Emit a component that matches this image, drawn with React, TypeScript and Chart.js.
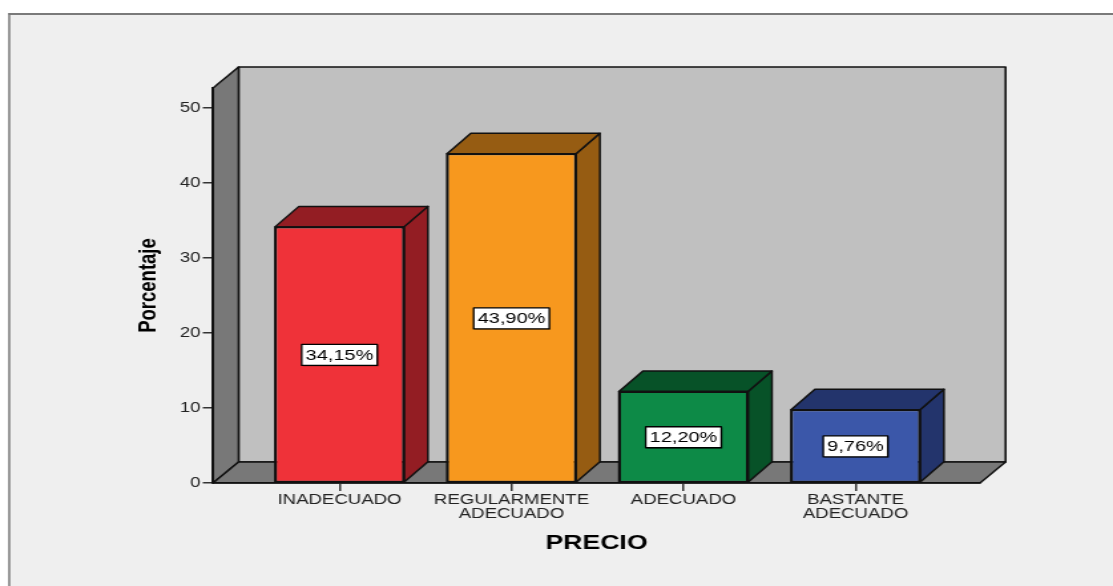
import React, { useEffect, useRef } from 'react';
import { Chart, registerables } from 'chart.js';

Chart.register(...registerables);

// ---- data ----
const categories: string[][] = [
  ['INADECUADO'],
  ['REGULARMENTE', 'ADECUADO'],
  ['ADECUADO'],
  ['BASTANTE', 'ADECUADO'],
];
const percentages = [34.15, 43.9, 12.2, 9.76];
const valueLabels = ['34,15%', '43,90%', '12,20%', '9,76%'];
const yTickValues = [0, 10, 20, 30, 40, 50];
const frontColors = ['#ef3239', '#f7981e', '#0d8a47', '#3b57a9'];
const sideColors = ['#931d23', '#965c12', '#075228', '#23346c'];
const yAxisTitle = 'Porcentaje';
const xAxisTitle = 'PRECIO';

// ---- layout constants ----
const CANVAS_W = 837;
const CANVAS_H = 586;
const WALL_DX = 19.2;
const WALL_DY = -21;
const BAR_DX = 18;
const BAR_DY = -20.5;
const FONT = '"Liberation Sans", Arial, sans-serif';

function poly(ctx: CanvasRenderingContext2D, pts: number[][], fill: string, stroke = '#111', lw = 1.5) {
  ctx.beginPath();
  ctx.moveTo(pts[0][0], pts[0][1]);
  for (let i = 1; i < pts.length; i++) ctx.lineTo(pts[i][0], pts[i][1]);
  ctx.closePath();
  ctx.fillStyle = fill;
  ctx.fill();
  ctx.lineWidth = lw;
  ctx.strokeStyle = stroke;
  ctx.lineJoin = 'round';
  ctx.stroke();
}

const scene3d = {
  id: 'scene3d',
  beforeDraw(chart: any) {
    const ctx: CanvasRenderingContext2D = chart.ctx;
    const { left, right, top, bottom } = chart.chartArea;
    ctx.save();
    ctx.fillStyle = '#ffffff';
    ctx.fillRect(0, 0, chart.width, chart.height);
    ctx.fillStyle = '#efefef';
    ctx.fillRect(6.5, 14, chart.width, chart.height);
    ctx.fillStyle = '#7a7a7a';
    ctx.fillRect(6.2, 13, chart.width, 2);
    ctx.fillRect(6.2, 13, 1.5, chart.height);
    // back wall
    poly(ctx, [
      [left + WALL_DX, top + WALL_DY],
      [right + WALL_DX, top + WALL_DY],
      [right + WALL_DX, bottom + WALL_DY],
      [left + WALL_DX, bottom + WALL_DY],
    ], '#c0c0c0', '#111', 1.6);
    // left wall
    poly(ctx, [
      [left, bottom],
      [left, top],
      [left + WALL_DX, top + WALL_DY],
      [left + WALL_DX, bottom + WALL_DY],
    ], '#787878');
    // floor
    poly(ctx, [
      [left, bottom],
      [left + WALL_DX, bottom + WALL_DY],
      [right + WALL_DX, bottom + WALL_DY],
      [right, bottom],
    ], '#787878');
    ctx.restore();
  },
  afterDatasetsDraw(chart: any) {
    const ctx: CanvasRenderingContext2D = chart.ctx;
    const meta = chart.getDatasetMeta(0);
    const yScale = chart.scales.y;
    ctx.save();
    meta.data.forEach((bar: any, i: number) => {
      const { x, y, base, width } = bar.getProps(['x', 'y', 'base', 'width'], true);
      const l = x - width / 2;
      const r = x + width / 2;
      poly(ctx, [
        [r, y],
        [r + BAR_DX, y + BAR_DY],
        [r + BAR_DX, base + BAR_DY],
        [r, base],
      ], sideColors[i]);
      poly(ctx, [
        [l, y],
        [l + BAR_DX, y + BAR_DY],
        [r + BAR_DX, y + BAR_DY],
        [r, y],
      ], sideColors[i]);
      ctx.lineWidth = 1.5;
      ctx.strokeStyle = '#111';
      ctx.strokeRect(l, y, width, base - y);
    });
    // value labels
    ctx.font = `15px ${FONT}`;
    ctx.textAlign = 'center';
    ctx.textBaseline = 'middle';
    meta.data.forEach((bar: any, i: number) => {
      const { x } = bar.getProps(['x'], true);
      const cy = yScale.getPixelForValue(percentages[i] / 2);
      const tw = ctx.measureText(valueLabels[i]).width;
      const bw = tw + 6;
      const bh = 21;
      ctx.fillStyle = 'rgba(0,0,0,0.25)';
      ctx.fillRect(x - bw / 2 + 1, cy - bh / 2 + 1, bw, bh);
      ctx.fillStyle = '#ffffff';
      ctx.fillRect(x - bw / 2, cy - bh / 2, bw, bh);
      ctx.lineWidth = 1.3;
      ctx.strokeStyle = '#000';
      ctx.strokeRect(x - bw / 2, cy - bh / 2, bw, bh);
      ctx.fillStyle = '#000';
      ctx.fillText(valueLabels[i], x, cy + 0.5);
    });
    ctx.restore();
  },
};

export default function App() {
  const ref = useRef<HTMLCanvasElement>(null);
  useEffect(() => {
    const canvas = ref.current!;
    const chart = new Chart(canvas, {
      type: 'bar',
      data: {
        datasets: [
          {
            data: percentages.map((v, i) => ({ x: i, y: v })),
            backgroundColor: frontColors,
            borderColor: '#111',
            borderWidth: 1.5,
            borderSkipped: false,
            barPercentage: 0.75,
            categoryPercentage: 1,
          } as any,
        ],
      },
      options: {
        responsive: false,
        animation: false,
        devicePixelRatio: 1,
        layout: { padding: { left: 0, top: 88, right: 100, bottom: 0 } },
        plugins: { legend: { display: false }, tooltip: { enabled: false } },
        scales: {
          x: {
            type: 'linear',
            offset: false,
            min: -0.7352,
            max: 3.724,
            afterBuildTicks: (s: any) => {
              s.ticks = categories.map((_, i) => ({ value: i }));
            },
            afterFit: (s: any) => {
              s.height = 103;
            },
            ticks: {
              callback: (v: any) => categories[v as number],
              autoSkip: false,
              maxRotation: 0,
              minRotation: 0,
              padding: 2,
              color: '#222',
              font: { family: FONT, size: 14, lineHeight: 1.0 },
            },
            grid: {
              display: true,
              offset: false,
              drawOnChartArea: false,
              drawTicks: true,
              tickLength: 8,
              color: '#333',
              lineWidth: 1.5,
            },
            border: { display: true, color: '#111', width: 1.5 },
            title: {
              display: true,
              text: xAxisTitle,
              color: '#000',
              font: { family: FONT, size: 20, weight: 'bold', lineHeight: 1.2 },
              padding: { top: 0, bottom: 31 },
            },
          },
          y: {
            type: 'linear',
            min: 0,
            max: 52.667,
            afterBuildTicks: (s: any) => {
              s.ticks = yTickValues.map((v) => ({ value: v }));
            },
            afterFit: (s: any) => {
              s.width = 160.2;
            },
            ticks: {
              padding: 1.6,
              color: '#222',
              font: { family: FONT, size: 14 },
            },
            grid: { display: true, drawOnChartArea: false, drawTicks: true, tickLength: 7.7, color: '#333', lineWidth: 1.5 },
            border: { display: true, color: '#111', width: 1.5 },
            title: {
              display: true,
              text: yAxisTitle,
              color: '#000',
              font: { family: FONT, size: 18.5, weight: 'bold', lineHeight: 1.2 },
              padding: { top: 100.5, bottom: 0 },
            },
          },
        },
      } as any,
      plugins: [scene3d],
    });
    return () => chart.destroy();
  }, []);
  return (
    <canvas
      ref={ref}
      width={CANVAS_W}
      height={CANVAS_H}
      style={{ position: 'absolute', left: 0, top: 0, width: '1113px', height: '586px' }}
    />
  );
}
